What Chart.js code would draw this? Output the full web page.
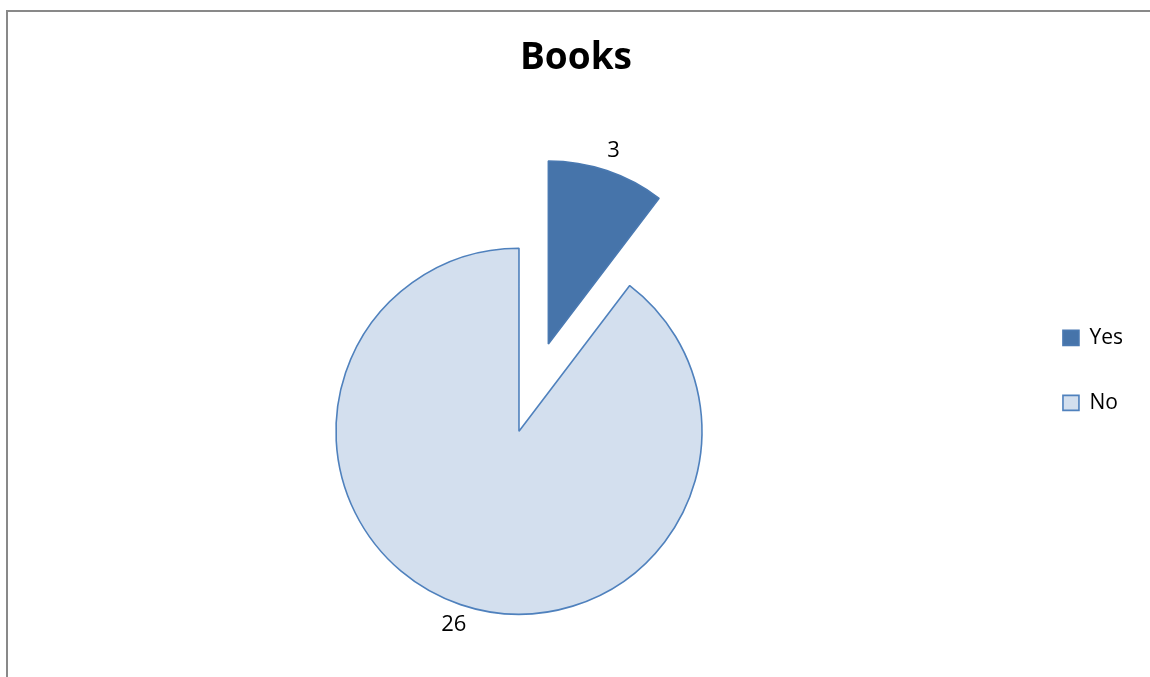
<!DOCTYPE html>
<html>
<head>
<meta charset="utf-8">
<title>Books</title>
<script src="https://cdn.jsdelivr.net/npm/chart.js@4.4.1/dist/chart.umd.min.js"></script>
<style>
  html, body { margin: 0; padding: 0; background: #fff; overflow: hidden; }
  #frame {
    position: absolute; left: 6px; top: 10px; right: 0; bottom: 0;
    border-left: 2px solid #898989; border-top: 2px solid #898989;
  }
  #wrap { position: absolute; left: 0; top: 0; width: 1150px; height: 677px; }
</style>
</head>
<body>
<div id="frame"></div>
<div id="wrap"><canvas id="chart-books"></canvas></div>
<script>
const categories = ['Yes', 'No'];
const counts = [3, 26];

// pulls a slice out of the pie along its middle angle
const explodePlugin = {
  id: 'explode',
  afterDatasetsUpdate(chart, args, opts) {
    const meta = chart.getDatasetMeta(0);
    meta.data.forEach((arc, i) => {
      const d = (opts.distance || [])[i] || 0;
      if (!d) return;
      const mid = (arc.startAngle + arc.endAngle) / 2;
      arc.x += Math.cos(mid) * d;
      arc.y += Math.sin(mid) * d;
    });
  }
};

// value labels just outside each slice
const outsideLabels = {
  id: 'outsideLabels',
  afterDatasetsDraw(chart, args, opts) {
    const ctx = chart.ctx;
    const meta = chart.getDatasetMeta(0);
    ctx.save();
    ctx.font = opts.font;
    ctx.fillStyle = opts.color;
    ctx.textAlign = 'center';
    ctx.textBaseline = 'middle';
    meta.data.forEach((arc, i) => {
      const mid = (arc.startAngle + arc.endAngle) / 2;
      const r = arc.outerRadius + opts.offset;
      ctx.fillText(String(chart.data.datasets[0].data[i]),
        arc.x + Math.cos(mid) * r, arc.y + Math.sin(mid) * r);
    });
    ctx.restore();
  }
};

Chart.defaults.font.family = 'Open Sans';

new Chart(document.getElementById('chart-books'), {
  type: 'pie',
  data: {
    labels: categories,
    datasets: [{
      data: counts,
      backgroundColor: ['#4674AA', '#D3DFEE'],
      borderColor: ['#4A79B1', '#4F81BD'],
      borderWidth: 1.6
    }]
  },
  options: {
    responsive: true,
    maintainAspectRatio: false,
    animation: false,
    events: [],
    layout: { padding: { left: 19, right: 17, top: 0, bottom: 62 } },
    plugins: {
      title: {
        display: true,
        text: 'Books',
        color: '#000',
        font: { family: 'Open Sans', size: 37, weight: 'bold' },
        padding: { top: 36, bottom: 167 }
      },
      legend: {
        position: 'right',
        align: 'start',
        fullSize: false,
        title: { display: true, text: '', font: { size: 10 }, padding: { top: 24, bottom: 0 } },
        labels: {
          color: '#000',
          font: { family: 'Open Sans', size: 21 },
          boxWidth: 16,
          boxHeight: 15,
          padding: 44
        }
      },
      tooltip: { enabled: false },
      explode: { distance: [92, 0] },
      outsideLabels: { font: '22px "Open Sans"', color: '#000', offset: 21 }
    }
  },
  plugins: [explodePlugin, outsideLabels]
});
</script>
</body>
</html>
